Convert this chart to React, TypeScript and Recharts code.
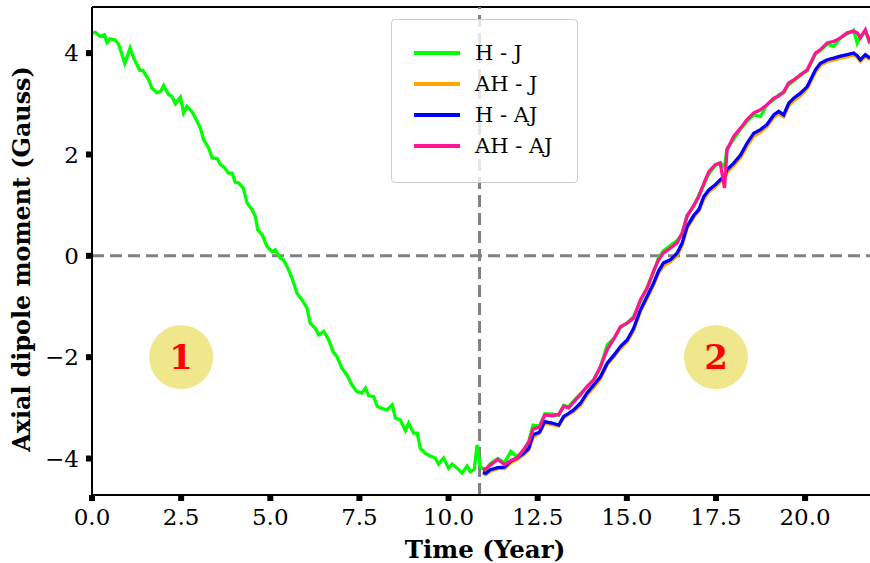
import {
  LineChart,
  Line,
  XAxis,
  YAxis,
  ReferenceLine,
  ReferenceDot,
  Label,
} from "recharts";

const FONT = "DejaVu Serif";

// tick labels
const xTicks = [0, 2.5, 5, 7.5, 10, 12.5, 15, 17.5, 20];
const yTicks = [-4, -2, 0, 2, 4];

// H - J, first half (before the split year)
const leftT = [
  0, 0.09, 0.23, 0.35, 0.42, 0.51, 0.65, 0.75, 0.92, 1.07, 1.17, 1.34, 1.43, 1.59, 1.68, 1.82,
  1.92, 2.01, 2.15, 2.24, 2.34, 2.48, 2.57, 2.66, 2.8, 2.9, 3.04, 3.13, 3.27, 3.37, 3.51, 3.6,
  3.69, 3.83, 3.93, 4.02, 4.11, 4.24, 4.35, 4.49, 4.58, 4.65, 4.77, 4.91, 5.05, 5.14, 5.28,
  5.37, 5.47, 5.61, 5.75, 5.89, 6.03, 6.12, 6.26, 6.36, 6.5, 6.64, 6.76, 6.87, 7.01, 7.15,
  7.29, 7.43, 7.57, 7.67, 7.76, 7.9, 8.0, 8.13, 8.27, 8.42, 8.51, 8.65, 8.79, 8.88, 9.02,
  9.12, 9.21, 9.35, 9.49, 9.63, 9.72, 9.86, 10.0, 10.1, 10.24, 10.38, 10.52, 10.61, 10.72,
  10.8, 10.89,
];
const leftHJ = [
  4.4, 4.41, 4.33, 4.36, 4.21, 4.28, 4.26, 4.17, 3.8, 4.1, 3.9, 3.66, 3.66, 3.47, 3.31, 3.22,
  3.24, 3.36, 3.18, 3.15, 3.0, 3.13, 2.82, 2.95, 2.85, 2.72, 2.52, 2.29, 2.13, 1.93, 1.92, 1.8,
  1.76, 1.63, 1.63, 1.45, 1.44, 1.34, 1.04, 0.91, 0.78, 0.51, 0.42, 0.18, 0.08, 0.12, -0.05,
  -0.08, -0.21, -0.44, -0.74, -0.87, -1.03, -1.33, -1.43, -1.56, -1.49, -1.66, -1.89, -1.99,
  -2.22, -2.35, -2.55, -2.68, -2.71, -2.61, -2.76, -2.78, -2.97, -3.01, -3.04, -2.94, -3.2,
  -3.24, -3.45, -3.3, -3.5, -3.5, -3.8, -3.9, -3.95, -3.99, -4.11, -3.99, -4.19, -4.11, -4.19,
  -4.29, -4.15, -4.26, -4.22, -3.73, -4.16,
];

// second half, all four runs
const rightT = [
  10.96, 11.05, 11.17, 11.38, 11.57, 11.75, 11.92, 12.1, 12.25, 12.37, 12.55, 12.7, 12.9,
  13.09, 13.23, 13.37, 13.51, 13.7, 13.88, 14.07, 14.25, 14.45, 14.65, 14.82, 15.01, 15.19,
  15.38, 15.57, 15.75, 15.89, 16.03, 16.22, 16.41, 16.55, 16.69, 16.88, 17.02, 17.16, 17.3,
  17.48, 17.62, 17.74, 17.81, 18.0, 18.19, 18.37, 18.56, 18.75, 18.93, 19.12, 19.26, 19.4,
  19.54, 19.68, 19.87, 20.06, 20.15, 20.29, 20.43, 20.62, 20.8, 20.99, 21.18, 21.36, 21.46,
  21.55, 21.69, 21.82,
];
const rightHJ = [
  -4.2, -4.22, -4.1, -4.0, -4.08, -3.86, -3.97, -3.85, -3.66, -3.34, -3.36, -3.12, -3.12,
  -3.15, -2.95, -2.98, -2.86, -2.72, -2.6, -2.44, -2.22, -1.76, -1.62, -1.42, -1.32, -1.2,
  -0.9, -0.62, -0.32, -0.04, 0.1, 0.2, 0.3, 0.42, 0.8, 0.98, 1.2, 1.4, 1.62, 1.78, 1.84, 1.75,
  2.12, 2.3, 2.5, 2.65, 2.78, 2.75, 2.98, 3.08, 3.18, 3.22, 3.38, 3.45, 3.57, 3.65, 3.78, 3.98,
  4.05, 4.18, 4.13, 4.3, 4.38, 4.45, 4.2, 4.32, 4.44, 4.18,
];
const rightAHJ = [
  -4.3, -4.32, -4.25, -4.2, -4.2, -4.08, -4.02, -3.93, -3.84, -3.58, -3.5, -3.3, -3.33, -3.36,
  -3.2, -3.13, -3.07, -2.95, -2.75, -2.6, -2.44, -2.15, -1.98, -1.83, -1.7, -1.48, -1.1, -0.84,
  -0.58, -0.34, -0.2, -0.12, 0.0, 0.2, 0.54, 0.76, 0.88, 1.12, 1.26, 1.36, 1.46, 1.52, 1.64,
  1.78, 1.94, 2.16, 2.36, 2.44, 2.55, 2.73, 2.8, 2.74, 2.96, 3.06, 3.16, 3.3, 3.42, 3.62, 3.76,
  3.83, 3.86, 3.9, 3.93, 3.96, 3.92, 3.84, 3.93, 3.87,
];
const rightHAJ = [
  -4.28, -4.29, -4.22, -4.18, -4.17, -4.05, -3.99, -3.9, -3.8, -3.53, -3.48, -3.27, -3.3,
  -3.34, -3.17, -3.11, -3.04, -2.91, -2.71, -2.55, -2.4, -2.12, -1.95, -1.79, -1.66, -1.43,
  -1.07, -0.8, -0.54, -0.3, -0.14, -0.08, 0.05, 0.25, 0.58, 0.8, 0.91, 1.17, 1.3, 1.4, 1.5,
  1.57, 1.7, 1.83, 1.99, 2.22, 2.42, 2.49, 2.59, 2.78, 2.85, 2.78, 3.01, 3.11, 3.21, 3.34,
  3.47, 3.67, 3.8, 3.87, 3.9, 3.94, 3.97, 4.0, 3.95, 3.87, 3.97, 3.9,
];
const rightAHAJ = [
  -4.22, -4.2, -4.13, -4.02, -4.12, -4.04, -3.99, -3.83, -3.68, -3.42, -3.38, -3.14, -3.16,
  -3.13, -2.97, -3.0, -2.88, -2.74, -2.58, -2.45, -2.2, -1.85, -1.62, -1.4, -1.33, -1.23,
  -0.87, -0.64, -0.3, -0.08, 0.06, 0.15, 0.26, 0.45, 0.78, 1.0, 1.17, 1.43, 1.66, 1.8, 1.83,
  1.34, 2.09, 2.36, 2.52, 2.69, 2.82, 2.88, 2.98, 3.11, 3.15, 3.24, 3.41, 3.47, 3.57, 3.67,
  3.8, 4.0, 4.07, 4.2, 4.23, 4.3, 4.4, 4.43, 4.4, 4.3, 4.46, 4.2,
];

const SPLIT_YEAR = 10.87;

const toPoints = (ts: number[], vs: number[]) => ts.map((t, i) => ({ t, v: vs[i] }));

const SERIES = [
  { name: "H - J", color: "#00ff00", data: [...toPoints(leftT, leftHJ), ...toPoints(rightT, rightHJ)] },
  { name: "AH - J", color: "#ffa500", data: toPoints(rightT, rightAHJ) },
  { name: "H - AJ", color: "#0000ff", data: toPoints(rightT, rightHAJ) },
  { name: "AH - AJ", color: "#ff1493", data: toPoints(rightT, rightAHAJ) },
];

const PHASES = [
  { label: "1", t: 2.5, v: -2 },
  { label: "2", t: 17.5, v: -2 },
];

function formatY(v: number) {
  return v < 0 ? `\u2212${-v}` : `${v}`;
}

const XTitle = () => (
  <text x={485} y={549} textAnchor="middle" dominantBaseline="central"
    fontFamily={FONT} fontWeight="bold" fontSize={24.5} fill="#000">
    Time (Year)
  </text>
);

const YTitle = () => (
  <text x={22} y={259} transform="rotate(-90, 22, 259)" textAnchor="middle"
    dominantBaseline="central" fontFamily={FONT} fontWeight="bold" fontSize={23.8} fill="#000">
    Axial dipole moment (Gauss)
  </text>
);

function LegendBox() {
  const rows = [53, 84, 115, 146];
  return (
    <div
      style={{
        position: "absolute",
        left: 391,
        top: 19,
        width: 187,
        height: 164,
        boxSizing: "border-box",
        border: "1px solid #cccccc",
        borderRadius: 4,
        background: "rgba(255,255,255,0.8)",
      }}
    >
      {SERIES.map((s, i) => (
        <div key={s.name}>
          <div
            style={{
              position: "absolute",
              left: 22,
              top: rows[i] - 19 - 1 - 2,
              width: 46,
              height: 4,
              background: s.color,
            }}
          />
          <div
            style={{
              position: "absolute",
              left: 83,
              top: rows[i] - 19 - 1 - 14,
              height: 28,
              lineHeight: "28px",
              fontFamily: FONT,
              fontSize: 21,
              color: "#000",
              whiteSpace: "nowrap",
            }}
          >
            {s.name}
          </div>
        </div>
      ))}
    </div>
  );
}

export default function App() {
  return (
    <div style={{ position: "absolute", left: 0, top: 0, width: 870, height: 563, background: "#fff" }}>
      <LineChart width={870} height={563} margin={{ top: 7, right: 0, bottom: 0, left: 0 }}>
        <XAxis
          type="number"
          dataKey="t"
          domain={[0, 21.82]}
          allowDataOverflow
          ticks={xTicks}
          tickFormatter={(v: number) => v.toFixed(1)}
          height={68}
          axisLine={{ stroke: "#000", strokeWidth: 2 }}
          tickLine={{ stroke: "#000", strokeWidth: 6 }}
          tickSize={6}
          tickMargin={8}
          tick={{ fontSize: 23, fill: "#000", fontFamily: FONT }}
          label={<XTitle />}
        />
        <YAxis
          type="number"
          dataKey="v"
          domain={[-4.72, 4.91]}
          allowDataOverflow
          ticks={yTicks}
          tickFormatter={formatY}
          width={92}
          axisLine={{ stroke: "#000", strokeWidth: 2 }}
          tickLine={{ stroke: "#000", strokeWidth: 6 }}
          tickSize={6}
          tickMargin={7}
          tick={{ fontSize: 23, fill: "#000", fontFamily: FONT }}
          label={<YTitle />}
        />
        <ReferenceLine y={4.91} stroke="#000" strokeWidth={2} />
        <ReferenceLine y={0} stroke="#808080" strokeWidth={3} strokeDasharray="12 6" />
        <ReferenceLine x={SPLIT_YEAR} stroke="#808080" strokeWidth={3} strokeDasharray="12 6" />
        {SERIES.map((s) => (
          <Line
            key={s.name}
            data={s.data}
            dataKey="v"
            name={s.name}
            type="linear"
            stroke={s.color}
            strokeWidth={3.3}
            dot={false}
            activeDot={false}
            isAnimationActive={false}
          />
        ))}
        {PHASES.map((p) => (
          <ReferenceDot key={p.label} x={p.t} y={p.v} r={32} fill="#f0e68c" stroke="none">
            <Label value={p.label} position="center" fill="#ff0000" fontSize={34}
              fontWeight="bold" fontFamily={FONT} />
          </ReferenceDot>
        ))}
      </LineChart>
      <LegendBox />
    </div>
  );
}
